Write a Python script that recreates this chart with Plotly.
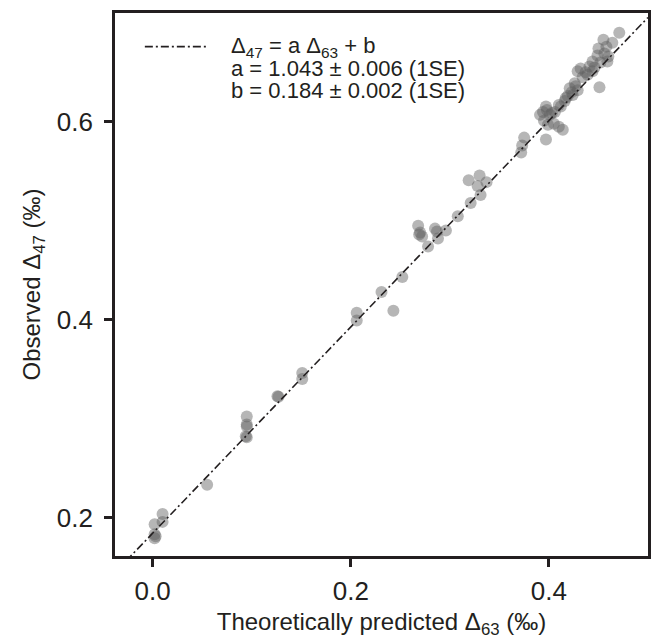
import plotly.graph_objects as go

# Theoretically predicted Δ63 (‰)
d63 = [0.002, 0.010, 0.010, 0.002, 0.002, 0.003, 0.055,
       0.095, 0.095, 0.094, 0.095, 0.095,
       0.126, 0.127,
       0.151, 0.151,
       0.206, 0.206, 0.231, 0.243, 0.252,
       0.268, 0.269, 0.272, 0.285, 0.287, 0.296, 0.288, 0.278, 0.270,
       0.308, 0.321, 0.331, 0.319, 0.330, 0.328, 0.337,
       0.375, 0.373, 0.372,
       0.397, 0.410, 0.414, 0.405, 0.395, 0.399,
       0.471, 0.455, 0.464, 0.458, 0.450, 0.456, 0.460, 0.449, 0.459,
       0.432, 0.441, 0.429, 0.444, 0.439, 0.451,
       0.426, 0.421, 0.429, 0.424, 0.419, 0.416, 0.412, 0.397, 0.394,
       0.391, 0.406, 0.401,
       0.437, 0.427, 0.423, 0.403, 0.398, 0.446, 0.452, 0.417, 0.410,
       0.434, 0.444]
# Observed Δ47 (‰)
d47 = [0.193, 0.2035, 0.1955, 0.183, 0.179, 0.181, 0.233,
       0.302, 0.292, 0.282, 0.281, 0.294,
       0.3226, 0.322,
       0.346, 0.340,
       0.407, 0.399, 0.428, 0.409, 0.443,
       0.495, 0.486, 0.484, 0.492, 0.489, 0.490, 0.482, 0.474, 0.488,
       0.5045, 0.518, 0.526, 0.541, 0.5456, 0.535, 0.539,
       0.584, 0.576, 0.569,
       0.582, 0.595, 0.592, 0.598, 0.601, 0.597,
       0.690, 0.683, 0.680, 0.676, 0.674, 0.669, 0.666, 0.667, 0.661,
       0.654, 0.656, 0.651, 0.651, 0.6475, 0.635,
       0.639, 0.634, 0.632, 0.627, 0.626, 0.621, 0.6155, 0.6155, 0.610,
       0.607, 0.610, 0.607,
       0.650, 0.636, 0.630, 0.609, 0.612, 0.655, 0.660, 0.624, 0.617,
       0.645, 0.661]

fit_a, fit_a_se = 1.043, 0.006
fit_b, fit_b_se = 0.184, 0.002

x_range = [-0.038, 0.5]
y_range = [0.161, 0.710]
x_ticks = [0.0, 0.2, 0.4]
y_ticks = [0.2, 0.4, 0.6]

INK = "#231f20"
FONT = "Liberation Sans, Arial, Helvetica, sans-serif"
DASH = "8px,3px,2px,3px"

fig = go.Figure()
fig.add_trace(go.Scatter(
    x=d63, y=d47, mode="markers",
    marker=dict(size=12, color="rgba(95,95,95,0.46)", line=dict(width=0)),
    showlegend=False, hoverinfo="skip"))

line_x = list(x_range)
line_y = [fit_a * v + fit_b for v in line_x]
fig.add_trace(go.Scatter(
    x=line_x, y=line_y, mode="lines",
    line=dict(color=INK, width=1.6, dash=DASH),
    showlegend=False, hoverinfo="skip"))

axis_common = dict(
    showline=True, linecolor=INK, linewidth=2.8, mirror=True,
    ticks="outside", ticklen=8, tickwidth=2.8, tickcolor=INK,
    showgrid=False, zeroline=False,
    tickfont=dict(size=26, color=INK, family=FONT),
    tickformat=".1f",
)

fig.update_xaxes(range=x_range, tickvals=x_ticks, ticklabelstandoff=2, **axis_common,
                 title=dict(text="Theoretically predicted Δ<sub>63</sub> (‰)",
                            font=dict(size=24, color=INK, family=FONT), standoff=10))
fig.update_yaxes(range=y_range, tickvals=y_ticks, ticklabelstandoff=6, **axis_common,
                 title=dict(text="Observed Δ<sub>47</sub> (‰)",
                            font=dict(size=24, color=INK, family=FONT), standoff=10))

# legend-like key
fig.add_shape(type="line", xref="paper", yref="paper",
              x0=0.056, x1=0.1735, y0=0.938, y1=0.938,
              line=dict(color=INK, width=1.6, dash=DASH))
legend_lines = [
    "Δ<sub>47</sub> = a Δ<sub>63</sub> + b",
    f"a = {fit_a:.3f} ± {fit_a_se:.3f} (1SE)",
    f"b = {fit_b:.3f} ± {fit_b_se:.3f} (1SE)",
]
for i, txt in enumerate(legend_lines):
    fig.add_annotation(text=txt, xref="paper", yref="paper",
                       x=0.2146, y=0.938 - i * 0.0408,
                       xanchor="left", yanchor="middle", showarrow=False,
                       align="left", font=dict(size=22, color=INK, family=FONT))

fig.update_layout(
    width=657, height=639,
    margin=dict(l=115, r=6, t=13, b=82),
    paper_bgcolor="white", plot_bgcolor="white",
    font=dict(family=FONT, color=INK),
)

fig.write_html("out.html")
